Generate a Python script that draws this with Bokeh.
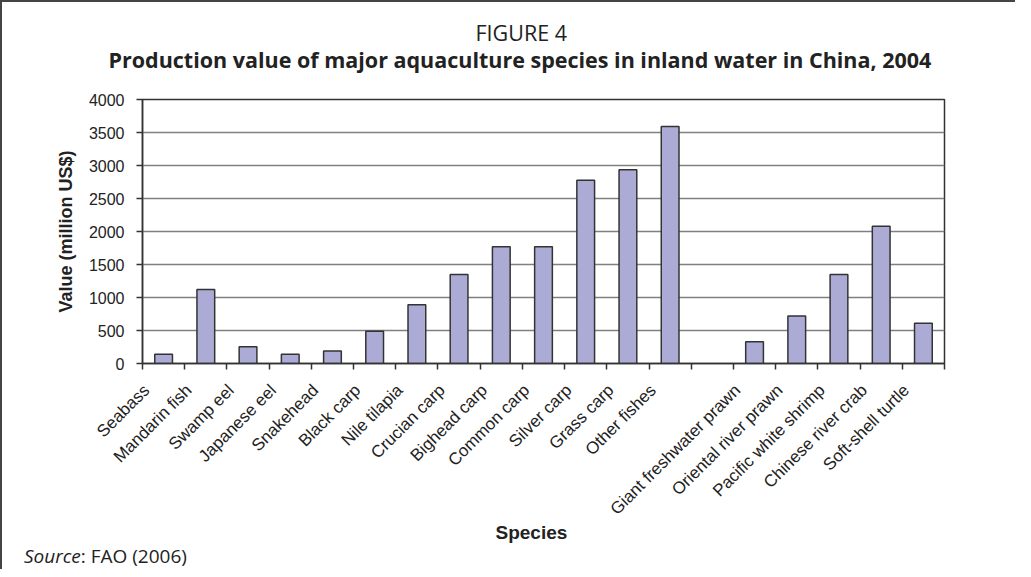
import math
from bokeh.plotting import figure
from bokeh.models import FixedTicker, Range1d, LinearAxis, Title, Div
from bokeh.layouts import column
from bokeh.embed import file_html
from bokeh.resources import INLINE

# ---- data ----
species = ["Seabass", "Mandarin fish", "Swamp eel", "Japanese eel", "Snakehead",
           "Black carp", "Nile tilapia", "Crucian carp", "Bighead carp", "Common carp",
           "Silver carp", "Grass carp", "Other fishes", "",
           "Giant freshwater prawn", "Oriental river prawn", "Pacific white shrimp",
           "Chinese river crab", "Soft-shell turtle"]
values = [140, 1120, 255, 140, 190, 490, 890, 1350, 1770, 1770,
          2775, 2935, 3590, None, 330, 720, 1350, 2080, 610]
y_ticks = [0, 500, 1000, 1500, 2000, 2500, 3000, 3500, 4000]

title_top = "FIGURE 4"
title_main = "Production value of major aquaculture species in inland water in China, 2004"
x_label = "Species"
y_label = "Value (million US$)"
source_label = "Source"
source_rest = ": FAO (2006)"

# ---- derived ----
n = len(species)
centers = [i + 0.5 for i in range(n)]
bar_x = [centers[i] for i in range(n) if values[i] is not None]
bar_top = [values[i] for i in range(n) if values[i] is not None]
label_ticks = [centers[i] for i in range(n) if species[i]]

W = 1013
BORDER = 2
HF, HD = 543, 16            # figure (+2px top border) + source line = 561
L, R, T = 140, 71, 97
B = HF - 361
cat_px = (W - L - R) / n
label_shift = 17 / cat_px   # rotated labels end a little left of the category centre

p = figure(width=W, height=HF, output_backend="svg", toolbar_location=None,
           x_range=Range1d(0, n), y_range=Range1d(0, max(y_ticks)),
           min_border_left=L, min_border_right=R, min_border_top=T, min_border_bottom=B,
           background_fill_color="white", border_fill_color="white")
p.styles = {"border-top": f"{BORDER}px solid #444444"}
p.extra_x_ranges = {"lab": Range1d(label_shift, n + label_shift)}

p.vbar(x=bar_x, top=bar_top, width=0.42, bottom=0,
       fill_color="#ababd6", line_color="#333333", line_width=1.5)

p.outline_line_color = "#333333"
p.outline_line_width = 1.5

# x axis: ticks between categories
xa = p.xaxis[0]
xa.ticker = FixedTicker(ticks=[], minor_ticks=list(range(n + 1)))
xa.major_tick_out = 0
xa.major_tick_in = 0
xa.minor_tick_out = 6
xa.minor_tick_in = 0
xa.minor_tick_line_color = "#333333"
xa.minor_tick_line_width = 1.5
xa.axis_line_color = "#333333"
xa.axis_line_width = 1.5
xa.major_label_text_font_size = "0px"
xa.major_label_standoff = 0

# x axis labels (rotated)
xl = LinearAxis(x_range_name="lab", ticker=FixedTicker(ticks=label_ticks))
xl.major_label_overrides = {c: species[i] for i, c in enumerate(centers) if species[i]}
xl.axis_line_color = None
xl.major_tick_line_color = None
xl.minor_tick_line_color = None
xl.major_tick_out = 0
xl.major_tick_in = 0
xl.major_label_orientation = math.pi / 4
xl.major_label_standoff = 18
xl.major_label_text_font = "Liberation Sans"
xl.major_label_text_font_size = "17px"
xl.major_label_text_color = "#222222"
p.add_layout(xl, "below")

# y axis
ya = p.yaxis[0]
ya.ticker = FixedTicker(ticks=y_ticks)
ya.major_tick_out = 6
ya.major_tick_in = 0
ya.minor_tick_out = 0
ya.minor_tick_in = 0
ya.major_tick_line_color = "#333333"
ya.major_tick_line_width = 1.5
ya.axis_line_color = "#333333"
ya.axis_line_width = 1.5
ya.major_label_standoff = 12
ya.major_label_text_font = "Liberation Sans"
ya.major_label_text_font_size = "16px"
ya.major_label_text_color = "#222222"
ya.axis_label = y_label
ya.axis_label_text_font = "Liberation Sans"
ya.axis_label_text_font_size = "18px"
ya.axis_label_text_font_style = "bold"
ya.axis_label_text_color = "#222222"
ya.axis_label_standoff = 10

p.xgrid.visible = False
p.ygrid.ticker = FixedTicker(ticks=y_ticks)
p.ygrid.grid_line_color = "#808080"
p.ygrid.grid_line_width = 1.3

# titles above (first added sits closest to the frame); a blank spacer keeps the gap
p.add_layout(Title(text=" ", text_font_size="1px", standoff=22.5), "above")
p.add_layout(Title(text=title_main, align="left", offset=-34, standoff=0,
                   text_font="Open Sans", text_font_size="21.5px", text_font_style="bold",
                   text_color="#222222"), "above")
p.add_layout(Title(text=title_top, align="left", offset=333, standoff=-9.5,
                   text_font="Open Sans", text_font_size="21.5px", text_font_style="normal",
                   text_color="#222222"), "above")

# x axis title below the rotated labels
p.add_layout(Title(text=x_label, align="left", offset=353, standoff=-13,
                   vertical_align="top",
                   text_font="Liberation Sans", text_font_size="19px", text_font_style="bold",
                   text_color="#222222"), "below")

src = Div(text=('<div style="padding-left:17px;line-height:16px;height:16px;'
                'font-family:\'Open Sans\';font-size:19px;color:#222222;white-space:nowrap">'
                f'<i>{source_label}</i>{source_rest}</div>'),
          width=W, height=HD)

layout = column(p, src, spacing=0)
layout.styles = {"border-left": f"{BORDER}px solid #444444"}

open("out.html", "w").write(file_html(layout, INLINE))
